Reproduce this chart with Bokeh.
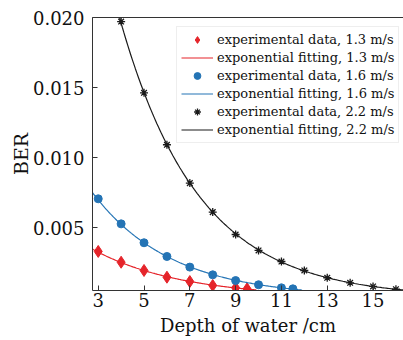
import numpy as np
from bokeh.plotting import figure
from bokeh.models import (Range1d, FixedTicker, Legend, LegendItem,
                          CustomJSTickFormatter, LinearAxis)
from bokeh.embed import file_html
from bokeh.resources import INLINE

# data
x13 = [3, 4, 5, 6, 7, 8, 9, 9.5]
y13 = [0.00329, 0.00252, 0.00193, 0.00145, 0.00114, 0.00086, 0.00069, 0.00062]
x16 = [3, 4, 5, 6, 7, 8, 9, 10, 11, 11.5]
y16 = [0.00705, 0.00526, 0.00391, 0.00293, 0.00217, 0.00162, 0.00121, 0.00091, 0.00069, 0.00062]
x22 = [4, 5, 6, 7, 8, 9, 10, 11, 12, 13, 14, 15, 16]
y22 = [0.01971, 0.01462, 0.01091, 0.00817, 0.00610, 0.00450, 0.00336, 0.00257,
       0.00193, 0.00141, 0.00105, 0.00079, 0.00059]
fit_ends = {"1.3": (2.75, 9.9), "1.6": (2.75, 11.9), "2.2": (3.8, 16.33)}
x_ticks = [3, 5, 7, 9, 11, 13, 15]
y_ticks = [0.005, 0.010, 0.015, 0.020]

FONT = "DejaVu Serif"

p = figure(width=403, height=340, output_backend="svg", toolbar_location=None,
           x_range=Range1d(2.75, 16.33), y_range=Range1d(0.0005, 0.020),
           min_border_left=92, min_border_right=0, min_border_top=17, min_border_bottom=50)
p.grid.visible = False
p.outline_line_color = None
p.background_fill_color = "white"
p.border_fill_color = "white"

xa = p.below[0]
ya = p.left[0]

for ax in (xa, ya):
    ax.major_label_text_font = FONT
    ax.major_label_text_font_size = "18px"
    ax.major_label_text_color = "#111111"
    ax.axis_label_text_font = FONT
    ax.axis_label_text_font_size = "18px"
    ax.axis_label_text_font_style = "normal"
    ax.axis_label_text_color = "#111111"
    ax.major_tick_in = 5
    ax.major_tick_out = 0
    ax.minor_tick_in = 0
    ax.minor_tick_out = 0
    ax.axis_line_color = "#333333"
    ax.major_tick_line_color = "#333333"

ya.axis_label_text_font_size = "19px"
xa.ticker = FixedTicker(ticks=x_ticks)
ya.ticker = FixedTicker(ticks=y_ticks)
ya.formatter = CustomJSTickFormatter(code="return tick.toFixed(3);")
xa.axis_label = "Depth of water /cm"
ya.axis_label = "BER"
xa.major_label_standoff = 2
xa.axis_label_standoff = 5
ya.major_label_standoff = 8
ya.axis_label_standoff = -2

# top border line only (no ticks, no labels)
top_axis = LinearAxis(ticker=FixedTicker(ticks=[]), major_tick_in=0, major_tick_out=0,
                      minor_tick_in=0, minor_tick_out=0, major_label_standoff=0,
                      major_label_text_font_size="0px", axis_line_color="#333333")
p.add_layout(top_axis, "above")


def fit(xs, ys, lo, hi):
    b, a = np.polyfit(np.array(xs, float), np.log(np.array(ys, float)), 1)
    xx = np.linspace(lo, hi, 200)
    return xx, np.exp(a + b * xx)


red, blue, black = "#e5242a", "#2474b5", "#1a1a1a"

fx, fy = fit(x13, y13, *fit_ends["1.3"])
l13 = p.line(fx, fy, line_color=red, line_width=1.2)
m13 = p.scatter(x13, y13, marker="diamond", size=12, fill_color=red, line_color=red)

fx, fy = fit(x16, y16, *fit_ends["1.6"])
l16 = p.line(fx, fy, line_color=blue, line_width=1.2)
m16 = p.scatter(x16, y16, marker="circle", size=8, fill_color=blue, line_color=blue)

fx, fy = fit(x22, y22, *fit_ends["2.2"])
l22 = p.line(fx, fy, line_color=black, line_width=1.2)
m22 = p.scatter(x22, y22, marker="asterisk", size=8, line_color=black, line_width=1.3)

legend = Legend(items=[
    LegendItem(label="experimental data, 1.3 m/s", renderers=[m13]),
    LegendItem(label="exponential fitting, 1.3 m/s", renderers=[l13]),
    LegendItem(label="experimental data, 1.6 m/s", renderers=[m16]),
    LegendItem(label="exponential fitting, 1.6 m/s", renderers=[l16]),
    LegendItem(label="experimental data, 2.2 m/s", renderers=[m22]),
    LegendItem(label="exponential fitting, 2.2 m/s", renderers=[l22]),
], location=(84, 147))
legend.label_text_font = FONT
legend.label_text_font_size = "13px"
legend.label_text_color = "#111111"
legend.glyph_width = 32
legend.glyph_height = 17
legend.label_height = 17
legend.label_standoff = 4
legend.spacing = 1
legend.padding = 4
legend.margin = 0
legend.border_line_color = "#dddddd"
legend.background_fill_alpha = 1.0
p.add_layout(legend, "center")

open("out.html", "w").write(file_html(p, INLINE))
